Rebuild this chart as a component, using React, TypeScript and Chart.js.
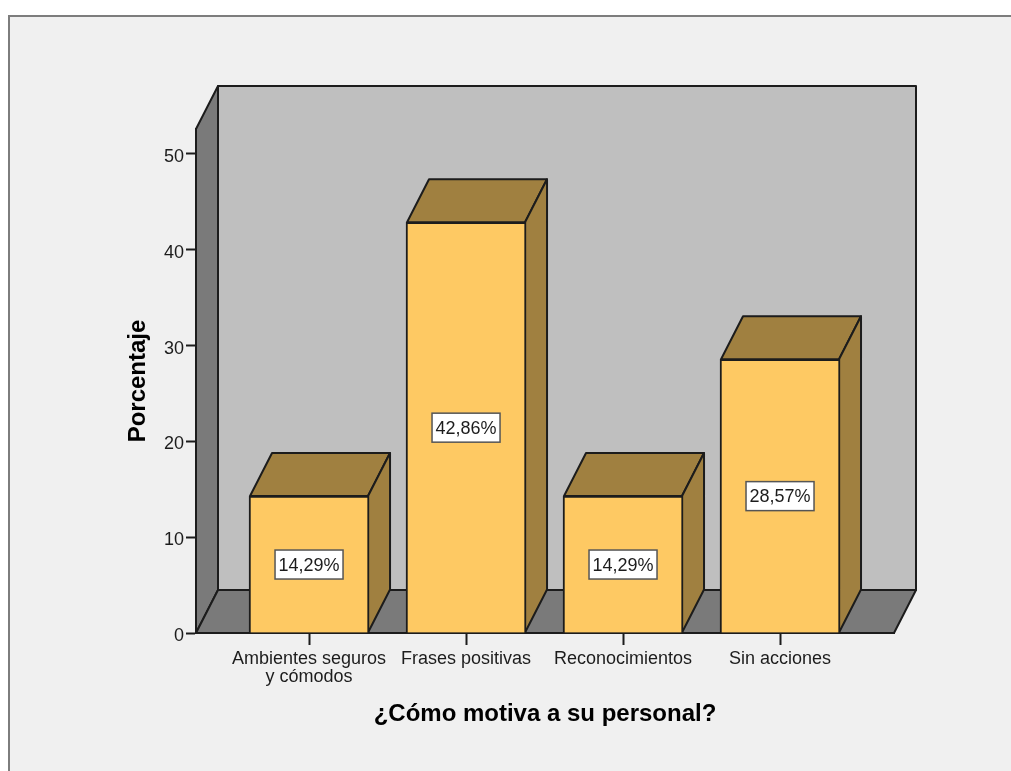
import React, { useEffect, useRef } from "react";
import { Chart, registerables } from "chart.js";

Chart.register(...registerables);

const categories: string[][] = [
  ["Ambientes seguros", "y cómodos"],
  ["Frases positivas"],
  ["Reconocimientos"],
  ["Sin acciones"],
];
const percentages: number[] = [14.29, 42.86, 14.29, 28.57];
const yTicks: number[] = [0, 10, 20, 30, 40, 50];

const FONT = "'Liberation Sans', Arial, sans-serif";
const INK = "#1c1c1c";
const DEPTH_X = 22;
const DEPTH_Y = 43;

function poly(ctx: CanvasRenderingContext2D, pts: number[][], fill: string) {
  ctx.beginPath();
  pts.forEach(([x, y], i) => (i ? ctx.lineTo(x, y) : ctx.moveTo(x, y)));
  ctx.closePath();
  ctx.fillStyle = fill;
  ctx.fill();
  ctx.lineWidth = 2;
  ctx.lineJoin = "round";
  ctx.strokeStyle = INK;
  ctx.stroke();
}

// Panel, back wall, side wall and floor of the 3D box
const boxPlugin = {
  id: "box",
  beforeDraw(chart: any) {
    const { ctx, width, height, chartArea: a } = chart;
    ctx.save();
    ctx.fillStyle = "#ffffff";
    ctx.fillRect(0, 0, width, height);
    ctx.fillStyle = "#f0f0f0";
    ctx.strokeStyle = "#7d7d7d";
    ctx.lineWidth = 2;
    ctx.fillRect(9, 16, width, height);
    ctx.strokeRect(9, 16, width + 20, height + 20);
    const l = a.left, r = a.right, t = a.top, b = a.bottom;
    poly(ctx, [[l + DEPTH_X, t - DEPTH_Y], [r + DEPTH_X, t - DEPTH_Y], [r + DEPTH_X, b - DEPTH_Y], [l + DEPTH_X, b - DEPTH_Y]], "#bfbfbf");
    poly(ctx, [[l, t], [l + DEPTH_X, t - DEPTH_Y], [l + DEPTH_X, b - DEPTH_Y], [l, b]], "#7a7a7a");
    poly(ctx, [[l, b], [l + DEPTH_X, b - DEPTH_Y], [r + DEPTH_X, b - DEPTH_Y], [r, b]], "#7a7a7a");
    ctx.restore();
  },
  // Top and side faces of each bar, extruded from the bar element
  beforeDatasetsDraw(chart: any) {
    const { ctx } = chart;
    ctx.save();
    chart.getDatasetMeta(0).data.forEach((bar: any) => {
      const half = bar.width / 2 - 1;
      const xl = bar.x - half, xr = bar.x + half, yt = bar.y, yb = bar.base;
      poly(ctx, [[xl, yt], [xl + DEPTH_X, yt - DEPTH_Y], [xr + DEPTH_X, yt - DEPTH_Y], [xr, yt]], "#a08040");
      poly(ctx, [[xr, yt], [xr + DEPTH_X, yt - DEPTH_Y], [xr + DEPTH_X, yb - DEPTH_Y], [xr, yb]], "#a08040");
    });
    ctx.restore();
  },
  // Boxed percentage at the middle of each bar
  afterDatasetsDraw(chart: any) {
    const { ctx } = chart;
    const y = chart.scales.y;
    ctx.save();
    ctx.font = `18px ${FONT}`;
    ctx.textAlign = "center";
    ctx.textBaseline = "middle";
    chart.getDatasetMeta(0).data.forEach((bar: any, i: number) => {
      const v = percentages[i];
      const cy = y.getPixelForValue(v / 2);
      const w = 68, h = 29;
      ctx.fillStyle = "#ffffff";
      ctx.fillRect(bar.x - w / 2, cy - h / 2, w, h);
      ctx.strokeStyle = "#555555";
      ctx.lineWidth = 1.5;
      ctx.strokeRect(bar.x - w / 2, cy - h / 2, w, h);
      ctx.fillStyle = INK;
      ctx.fillText(v.toFixed(2).replace(".", ",") + "%", bar.x, cy + 1);
    });
    ctx.restore();
  },
};

export default function App() {
  const ref = useRef<HTMLCanvasElement>(null);
  useEffect(() => {
    const chart = new Chart(ref.current as HTMLCanvasElement, {
      type: "bar",
      data: {
        datasets: [
          {
            data: percentages.map((v, i) => ({ x: i, y: v })),
            backgroundColor: "#fec963",
            borderColor: INK,
            borderWidth: 2,
            barThickness: 120,
          },
        ],
      },
      options: {
        responsive: false,
        animation: false,
        devicePixelRatio: 1,
        layout: { padding: { left: 124, top: 129, right: 117, bottom: 42 } },
        plugins: { legend: { display: false }, tooltip: { enabled: false } },
        scales: {
          x: {
            type: "linear",
            offset: false,
            min: -0.72,
            max: 3.726,
            afterBuildTicks: (s: any) => {
              s.ticks = categories.map((_, i) => ({ value: i }));
            },
            afterFit: (s: any) => {
              s.height = 96;
            },
            ticks: {
              autoSkip: false,
              maxRotation: 0,
              padding: 5,
              color: INK,
              font: { family: FONT, size: 18, lineHeight: 1 },
              callback: (v: any) => categories[v],
            },
            grid: { offset: false, drawOnChartArea: false, drawTicks: true, tickLength: 12, tickColor: INK, tickWidth: 2 },
            border: { color: INK, width: 2 },
            title: {
              display: true,
              text: "¿Cómo motiva a su personal?",
              color: "#000000",
              font: { family: FONT, size: 24, weight: "bold" },
              padding: 0,
            },
          },
          y: {
            min: 0,
            max: 52.6,
            afterBuildTicks: (s: any) => {
              s.ticks = yTicks.map((value) => ({ value }));
            },
            afterFit: (s: any) => {
              s.width = 72;
            },
            ticks: {
              padding: 2,
              labelOffset: 3,
              color: INK,
              font: { family: FONT, size: 18 },
            },
            grid: { drawOnChartArea: false, drawTicks: true, tickLength: 10, tickColor: INK, tickWidth: 2 },
            border: { color: INK, width: 2 },
            title: {
              display: true,
              text: "Porcentaje",
              color: "#000000",
              font: { family: FONT, size: 24, weight: "bold" },
              padding: 0,
            },
          },
        },
      },
      plugins: [boxPlugin],
    } as any);
    return () => chart.destroy();
  }, []);
  return (
    <div style={{ position: "absolute", left: 0, top: 0, width: 1011, height: 771, overflow: "hidden" }}>
      <canvas ref={ref} width={1011} height={771} style={{ display: "block" }} />
    </div>
  );
}
